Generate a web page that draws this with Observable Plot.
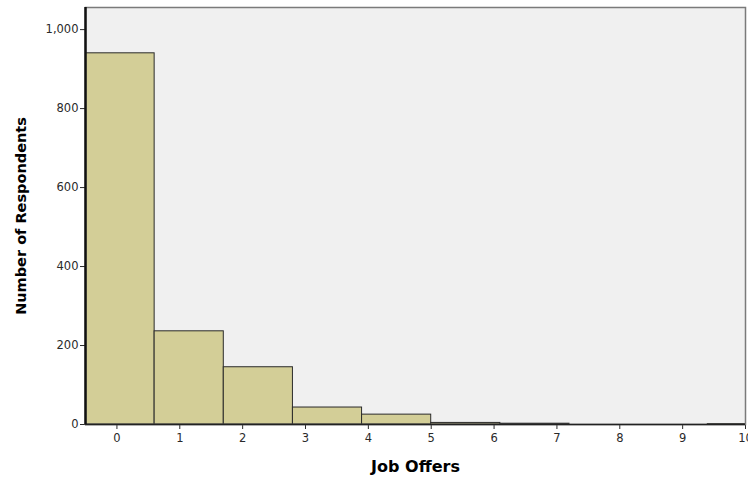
<!DOCTYPE html>
<html>
<head>
<meta charset="utf-8">
<script src="https://cdn.jsdelivr.net/npm/d3@7"></script>
<script src="https://cdn.jsdelivr.net/npm/@observablehq/plot@0.6"></script>
<style>
  html, body { margin: 0; padding: 0; background: #fff; }
  #chart svg { display: block; }
  g[aria-label="y-axis label"] text {
    font-family: "DejaVu Sans", sans-serif; font-weight: bold; font-size: 14.5px; fill: #000;
  }
  g[aria-label="x-axis label"] text {
    font-family: "DejaVu Sans", sans-serif; font-weight: bold; font-size: 16px; fill: #000;
  }
</style>
</head>
<body>
<div id="chart"></div>
<script>
// Histogram bin edges (job offers) and respondent counts per bin
const binStarts = [-0.5, 0.6, 1.7, 2.8, 3.9, 5.0, 6.1, 7.2, 8.3, 9.4];
const binEnds   = [0.6, 1.7, 2.8, 3.9, 5.0, 6.1, 7.2, 8.3, 9.4, 10.5];
const counts    = [940, 236, 145, 43, 25, 4, 2, 0, 0, 1];
const xTicks = [0, 1, 2, 3, 4, 5, 6, 7, 8, 9, 10];
const yTicks = [0, 200, 400, 600, 800, 1000];

const bins = binStarts.map((s, i) => ({x1: s, x2: binEnds[i], y: counts[i]}));

const chart = Plot.plot({
  width: 748,
  height: 479,
  marginLeft: 85,
  marginRight: 3,
  marginTop: 7,
  marginBottom: 55,
  style: {fontFamily: "'DejaVu Sans', sans-serif", fontSize: "11.5px", color: "#2a2a2a", background: "#fff"},
  x: {domain: [-0.5, 10], ticks: xTicks, tickSize: 5, tickPadding: 4, label: "Job Offers", labelAnchor: "center", labelArrow: "none", labelOffset: 47},
  y: {domain: [0, 1056], ticks: yTicks, tickSize: 5, tickPadding: 2, tickFormat: d3.format(","), label: "Number of Respondents", labelAnchor: "center", labelArrow: "none", labelOffset: 70},
  marks: [
    Plot.frame({fill: "#f0f0f0", stroke: "none"}),
    Plot.rectY(bins, {x1: "x1", x2: "x2", y: "y", fill: "#d3ce97", stroke: "#2a2a2a", strokeWidth: 1, clip: true}),
    Plot.frame({stroke: "#7a7a7a", strokeWidth: 1.5}),
    Plot.ruleY([0], {stroke: "#222", strokeWidth: 1.5}),
    Plot.ruleX([-0.5], {stroke: "#111", strokeWidth: 2.5})
  ]
});
document.getElementById("chart").appendChild(chart);
</script>
</body>
</html>
